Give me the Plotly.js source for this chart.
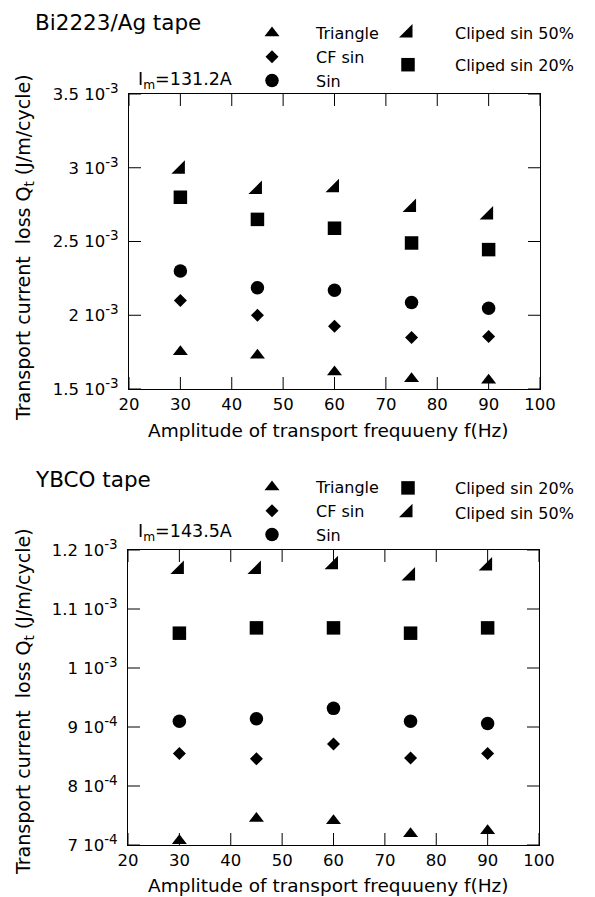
<!DOCTYPE html>
<html><head><meta charset="utf-8">
<script src="https://cdn.plot.ly/plotly-3.0.1.min.js"></script>
<style>html,body{margin:0;padding:0;background:#fff;} #top{width:595px;height:448px;} #bottom{width:595px;height:449px;}</style>
</head><body><div id="top"></div><div id="bottom"></div>
<script>
// ---- data ----
const freq = [30, 45, 60, 75, 90];

// Bi2223/Ag tape, Im = 131.2 A  (J/m/cycle)
const biTriangle = [1.752e-3, 1.728e-3, 1.615e-3, 1.570e-3, 1.560e-3];
const biCFsin    = [2.100e-3, 2.000e-3, 1.926e-3, 1.850e-3, 1.856e-3];
const biSin      = [2.300e-3, 2.187e-3, 2.170e-3, 2.087e-3, 2.048e-3];
const biClip50   = [2.990e-3, 2.852e-3, 2.864e-3, 2.730e-3, 2.680e-3];
const biClip20   = [2.800e-3, 2.650e-3, 2.590e-3, 2.490e-3, 2.445e-3];

// YBCO tape, Im = 143.5 A  (J/m/cycle)
const ybTriangle = [0.707e-3, 0.745e-3, 0.741e-3, 0.719e-3, 0.724e-3];
const ybCFsin    = [0.855e-3, 0.846e-3, 0.871e-3, 0.8475e-3, 0.855e-3];
const ybSin      = [0.9096e-3, 0.914e-3, 0.9316e-3, 0.9096e-3, 0.906e-3];
const ybClip20   = [1.059e-3, 1.068e-3, 1.068e-3, 1.059e-3, 1.068e-3];
const ybClip50   = [1.167e-3, 1.167e-3, 1.175e-3, 1.156e-3, 1.173e-3];

const xTickVals = [20, 30, 40, 50, 60, 70, 80, 90, 100];
const biTickVals = [1.5e-3, 2e-3, 2.5e-3, 3e-3, 3.5e-3];
const biTickText = ['1.5 10<sup>-3</sup>', '2 10<sup>-3</sup>', '2.5 10<sup>-3</sup>', '3 10<sup>-3</sup>', '3.5 10<sup>-3</sup>'];
const ybTickVals = [7e-4, 8e-4, 9e-4, 1e-3, 1.1e-3, 1.2e-3];
const ybTickText = ['7 10<sup>-4</sup>', '8 10<sup>-4</sup>', '9 10<sup>-4</sup>', '1 10<sup>-3</sup>', '1.1 10<sup>-3</sup>', '1.2 10<sup>-3</sup>'];

const seriesNames = { tri: 'Triangle', cf: 'CF sin', sin: 'Sin', c50: 'Cliped sin 50%', c20: 'Cliped sin 20%' };
const topTitle = 'Bi2223/Ag tape';
const botTitle = 'YBCO tape';
const topIm = 'I<sub>m</sub>=131.2A';
const botIm = 'I<sub>m</sub>=143.5A';
const xTitle = 'Amplitude of transport frequueny f(Hz)';
const yTitle = 'Transport current\u00a0 loss Q<sub>t</sub> (J/m/cycle)';

// ---- styling ----
const W = 595, H1 = 448, H2 = 449, OFF = 448;
const px = v => v / W;
const py1 = v => 1 - v / H1;
const py2 = v => 1 - (v - OFF) / H2;
const FONT = 'DejaVu Sans, Arial, sans-serif';
const TICKLEN = 12;
const supBig = s => s.replace(/<sup>(.*?)<\/sup>/, '<sup><span style="font-size:13.5px">$1</span></sup>');
const sym = {
  tri: {symbol: 'triangle-up', size: 13, color: '#000'},
  cf:  {symbol: 'diamond', size: 10, color: '#000'},
  sin: {symbol: 'circle', size: 13.5, color: '#000'},
  c50: {symbol: 'triangle-se', size: 15, color: '#000'},
  c20: {symbol: 'square', size: 13.5, color: '#000'}
};
function tr(y, key, legend, group) {
  return {x: freq, y: y, type: 'scatter', mode: 'markers', name: seriesNames[key],
    marker: sym[key], legend: legend, legendgroup: group, showlegend: true, hoverinfo: 'x+y'};
}
function axis(extra) {
  return Object.assign({
    showgrid: false, zeroline: false, showline: true, linecolor: '#000', linewidth: 1,
    mirror: true, ticks: '', tickfont: {family: FONT, size: 16.5, color: '#000'}
  }, extra);
}
// inside tick marks on all four sides, placed through the axes' own data scales
function tickShapes(xVals, yVals, xr, yr, xPix, yPix) {
  const dy = TICKLEN * (yr[1] - yr[0]) / yPix;
  const dx = TICKLEN * (xr[1] - xr[0]) / xPix;
  const ln = (x0, y0, x1, y1) => ({type: 'line', xref: 'x', yref: 'y', x0: x0, y0: y0, x1: x1, y1: y1,
    line: {color: '#000', width: 1}, layer: 'above'});
  const s = [];
  xVals.forEach(v => { s.push(ln(v, yr[0], v, yr[0] + dy)); s.push(ln(v, yr[1], v, yr[1] - dy)); });
  yVals.forEach(v => { s.push(ln(xr[0], v, xr[0] + dx, v)); s.push(ln(xr[1], v, xr[1] - dx, v)); });
  return s;
}
const legBase = (x, y, gap, order, iw) => ({x: x, y: y, xanchor: 'left', yanchor: 'top', bgcolor: 'rgba(0,0,0,0)',
  borderwidth: 0, font: {family: FONT, size: 16, color: '#000'}, itemwidth: iw, tracegroupgap: gap, traceorder: order});
const ann = (py, text, x, y, size, xanchor, angle) => ({text: text, xref: 'paper', yref: 'paper', x: px(x), y: py(y),
  xanchor: xanchor, yanchor: 'middle', textangle: angle || 0, showarrow: false, font: {family: FONT, size: size, color: '#000'}});

const xRange = [20, 100];
const biRange = [1.5e-3, 3.5e-3];
const ybRange = [7e-4, 1.2e-3];

// ---- top panel: Bi2223/Ag ----
const dataTop = [
  tr(biTriangle, 'tri', 'legend', 'a1'), tr(biCFsin, 'cf', 'legend', 'a2'), tr(biSin, 'sin', 'legend', 'a3'),
  tr(biClip50, 'c50', 'legend2', 'b1'), tr(biClip20, 'c20', 'legend2', 'b2')
];
const layoutTop = {
  width: W, height: H1, margin: {l: 0, r: 0, t: 0, b: 0},
  xaxis: axis({domain: [px(129), px(540)], range: xRange, tickmode: 'array', tickvals: xTickVals}),
  yaxis: axis({domain: [py1(389), py1(94)], range: biRange, tickmode: 'array',
    tickvals: biTickVals, ticktext: biTickText.map(supBig), ticklabelstandoff: 6}),
  shapes: tickShapes(xTickVals, biTickVals, xRange, biRange, 540 - 129, 389 - 94),
  legend: legBase(px(228), py1(16), 0, 'normal', 78),
  legend2: legBase(px(361), py1(16), 8, 'grouped', 84),
  annotations: [
    ann(py1, topTitle, 33, 23, 21.5, 'left'),
    ann(py1, topIm, 136, 80, 17.5, 'left'),
    ann(py1, xTitle, 328, 430, 18.5, 'center'),
    ann(py1, yTitle, 24, 248, 19, 'center', -90)
  ]
};

// ---- bottom panel: YBCO ----
const dataBot = [
  tr(ybTriangle, 'tri', 'legend', 'c1'), tr(ybCFsin, 'cf', 'legend', 'c2'), tr(ybSin, 'sin', 'legend', 'c3'),
  tr(ybClip20, 'c20', 'legend2', 'd1'), tr(ybClip50, 'c50', 'legend2', 'd2')
];
const layoutBot = {
  width: W, height: H2, margin: {l: 0, r: 0, t: 0, b: 0},
  xaxis: axis({domain: [px(128), px(539)], range: xRange, tickmode: 'array', tickvals: xTickVals}),
  yaxis: axis({domain: [py2(845), py2(550)], range: ybRange, tickmode: 'array',
    tickvals: ybTickVals, ticktext: ybTickText.map(supBig), ticklabelstandoff: 6}),
  shapes: tickShapes(xTickVals, ybTickVals, xRange, ybRange, 539 - 128, 845 - 550),
  legend: legBase(px(228), py2(470), 0, 'normal', 78),
  legend2: legBase(px(361), py2(471), 1, 'grouped', 84),
  annotations: [
    ann(py2, botTitle, 33, 480, 21.5, 'left'),
    ann(py2, botIm, 136, 533, 17.5, 'left'),
    ann(py2, xTitle, 328, 885, 18.5, 'center'),
    ann(py2, yTitle, 24, 702, 19, 'center', -90)
  ]
};

const cfg = {displayModeBar: false};
Plotly.newPlot('top', dataTop, layoutTop, cfg);
Plotly.newPlot('bottom', dataBot, layoutBot, cfg);
</script></body></html>
